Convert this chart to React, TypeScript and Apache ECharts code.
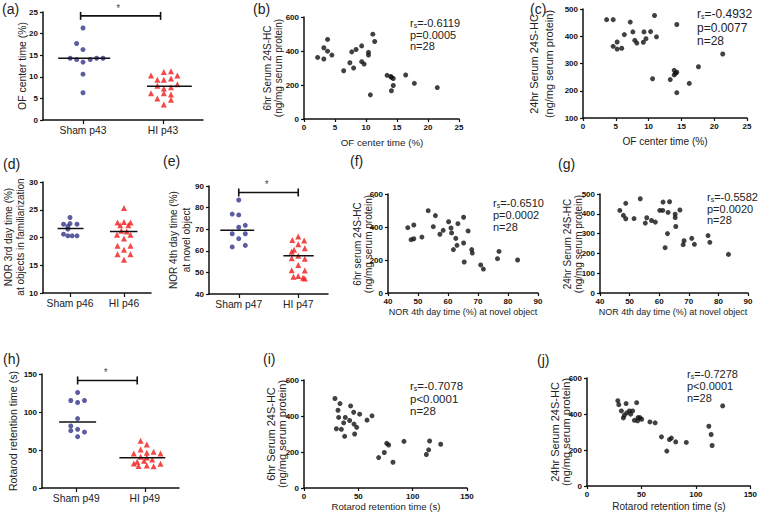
import React, { useEffect, useRef } from "react";
import * as echarts from "echarts";

const FONT = "'Liberation Sans', Arial, Helvetica, sans-serif";
const INK = "#111111";
const TXT = "#222222";
const SHAM = "#33338a";
const HI = "#f01a1a";

// ---------- (a) OF center time ----------
const aCats = ["Sham p43", "HI p43"];
const aShamY = [21.3, 17.7, 16.3, 14.3, 14.0, 13.4, 14.0, 14.3, 14.3, 10.6, 6.3];
const aShamJit = [0, -0.08, 0, -0.16, -0.08, 0, 0.09, 0.17, 0.25, 0, 0];
const aHiY = [11.1, 11.3, 10.3, 10.3, 9.3, 9.3, 9.6, 7.9, 8.3, 7.3, 7.6, 6.2, 6.2, 5.9, 5.0, 4.7, 3.6];
const aHiJit = [0.01, 0.1, 0.18, -0.15, -0.07, 0.01, 0.1, -0.07, 0.18, 0.01, 0.1, -0.15, 0.01, 0.1, -0.07, 0.1, 0.01];
const aMedian = [14.3, 7.8];
const aMedSpan = [[-0.31, 0.34], [-0.2, 0.36]];
const aSig = { from: -0.03, to: 0.97, y: 24.1, star: 0.44 };

// ---------- (d) NOR 3rd day ----------
const dCats = ["Sham p46", "HI p46"];
const dShamY = [23.6, 22.4, 22.5, 22.4, 22.0, 21.5, 20.6, 20.3, 20.3, 20.3];
const dShamJit = [0, -0.12, 0.0, 0.13, -0.04, -0.04, -0.12, -0.04, 0.04, 0.13];
const dHiY = [25.3, 22.7, 22.8, 22.7, 22.2, 22.2, 21.2, 21.1, 20.5, 20.5, 19.8, 18.5, 18.5, 17.8, 17.0, 17.0, 16.0];
const dHiJit = [0, -0.12, 0, 0.12, -0.07, 0.08, -0.05, 0.05, -0.13, 0.12, 0, -0.12, 0.12, 0, -0.12, 0.12, 0];
const dMedian = [21.6, 21.1];
const dMedSpan = [[-0.23, 0.25], [-0.26, 0.25]];

// ---------- (e) NOR 4th day ----------
const eCats = ["Sham p47", "HI p47"];
const eShamY = [83.5, 77.0, 76.6, 70.9, 71.8, 67.9, 67.9, 65.6, 61.8, 62.5];
const eShamJit = [0, -0.11, 0, 0, 0.11, -0.11, 0.11, 0, -0.11, 0.11];
const eHiY = [66.6, 65.0, 64.8, 63.0, 61.2, 60.5, 59.6, 57.7, 56.5, 56.3, 53.4, 51.0, 50.9, 48.3, 48.0, 47.5, 47.2];
const eHiJit = [0, -0.1, 0.1, 0, 0.11, -0.07, -0.11, 0, -0.11, 0.11, 0, -0.11, 0.11, 0, -0.08, 0.08, 0.11];
const eMedian = [69.5, 57.7];
const eMedSpan = [[-0.31, 0.26], [-0.25, 0.26]];
const eSig = { from: 0, to: 1, y: 87.0, star: 0.47 };

// ---------- (h) Rotarod ----------
const hCats = ["Sham p49", "HI p49"];
const hShamY = [125.7, 115.1, 112.5, 115.1, 91.3, 81.6, 77.2, 75.4, 73.6, 67.5];
const hShamJit = [0.02, -0.08, 0.02, 0.12, 0.02, -0.08, 0.02, -0.08, 0.12, 0.02];
const hHiY = [62.2, 57.3, 50.7, 47.6, 46.3, 45.4, 45.4, 41.0, 40.1, 37.5, 35.7, 34.4, 32.2, 31.8, 29.5, 29.1, 28.7];
const hHiJit = [-0.06, 0.03, -0.06, 0.13, 0.03, -0.16, 0.23, -0.06, 0.03, 0.11, -0.01, -0.11, -0.16, 0.23, 0.03, -0.09, 0.13];
const hMedian = [86.9, 39.7];
const hMedSpan = [[-0.25, 0.29], [-0.37, 0.3]];
const hSig = { from: 0.02, to: 0.89, y: 141.5, star: 0.43 };

// ---------- correlation scatters ----------
const bX = [3.8, 3.2, 3.8, 4.5, 2.2, 3.2, 6.4, 7.4, 7.7, 8.4, 8.0, 9.3, 9.3, 9.7, 10.4, 10.4, 11.1, 11.4, 10.7, 13.4, 14.1, 14.4, 14.1, 14.4, 16.4, 17.8, 21.5, 14.0];
const bY = [468, 419, 399, 376, 362, 353, 284, 331, 395, 409, 300, 430, 337, 323, 392, 376, 499, 456, 142, 257, 245, 238, 166, 197, 259, 210, 185, 250];
const bStats = ["-0.6119", "p=0.0005", "n=28"];

const cX = [3.6, 4.6, 4.6, 5.2, 5.2, 5.9, 6.3, 7.2, 7.6, 7.9, 8.2, 9.3, 9.2, 9.6, 10.3, 10.9, 11.2, 10.6, 13.3, 13.9, 13.9, 14.3, 14.3, 14.3, 16.2, 17.6, 21.3, 14.1];
const cY = [461, 461, 363, 379, 353, 356, 406, 452, 416, 385, 375, 416, 378, 391, 417, 476, 398, 244, 241, 275, 258, 268, 443, 193, 227, 288, 335, 264];
const cStats = ["-0.4932", "p=0.0077", "n=28"];

const fX = [46.6, 48.6, 47.7, 48.6, 51.3, 53.4, 55.1, 55.8, 57.3, 58.4, 60.2, 61.0, 61.2, 62.6, 61.8, 63.0, 63.3, 65.2, 65.2, 65.4, 66.7, 67.9, 68.1, 70.9, 71.8, 76.5, 77.0, 83.2];
const fY = [396, 412, 323, 329, 339, 499, 402, 469, 356, 380, 432, 394, 364, 331, 263, 289, 420, 459, 303, 188, 376, 263, 242, 170, 145, 208, 252, 200];
const fStats = ["-0.6510", "p=0.0002", "n=28"];

const gX = [46.7, 47.9, 48.7, 48.7, 51.5, 53.6, 55.3, 55.8, 57.4, 58.7, 60.2, 61.2, 61.3, 62.0, 62.8, 63.0, 63.5, 65.4, 65.4, 65.6, 67.0, 68.1, 68.4, 71.0, 71.9, 76.5, 77.1, 83.4];
const gY = [417, 392, 375, 453, 376, 476, 353, 380, 366, 358, 417, 417, 459, 229, 300, 407, 461, 398, 381, 336, 419, 244, 264, 276, 246, 290, 256, 195];
const gStats = ["-0.5582", "p=0.0020", "n=28"];

const iX = [28.5, 33.1, 29.8, 31.3, 31.9, 34.4, 36.5, 37.4, 38.0, 42.0, 42.9, 45.7, 46.0, 46.6, 48.5, 51.2, 58.0, 62.6, 68.7, 73.9, 76.1, 77.9, 81.9, 92.0, 112.6, 114.7, 115.6, 125.8];
const iY = [497, 469, 329, 432, 392, 326, 362, 287, 392, 375, 456, 421, 355, 300, 337, 410, 377, 401, 169, 197, 248, 239, 143, 259, 186, 212, 261, 243];
const iStats = ["-0.7078", "p<0.0001", "n=28"];

const jX = [28.3, 29.2, 31.6, 33.4, 34.3, 35.9, 36.5, 38.9, 40.1, 41.9, 43.5, 45.6, 46.5, 46.8, 48.6, 50.2, 57.8, 62.6, 68.4, 73.3, 75.7, 77.5, 81.5, 91.2, 111.9, 114.0, 114.9, 124.6];
const jY = [474, 452, 417, 378, 393, 458, 406, 417, 399, 417, 365, 463, 362, 380, 380, 371, 356, 351, 273, 194, 258, 266, 245, 242, 332, 286, 225, 445];
const jStats = ["-0.7278", "p<0.0001", "n=28"];

type Rect = { left: number; top: number; width: number; height: number };

function buildOption() {
  const grid: any[] = [];
  const xAxis: any[] = [];
  const yAxis: any[] = [];
  const series: any[] = [];
  const graphic: any[] = [];

  const axisLine = { show: true, onZero: false, lineStyle: { color: INK, width: 1.5 } };
  const axisTick = { show: true, length: 3, lineStyle: { color: INK, width: 1.2 } };
  const numLabel = (margin: number) => ({ fontSize: 8, fontWeight: "bold", color: INK, fontFamily: FONT, margin });
  const valAxis = (gi: number, min: number, max: number, interval: number, margin: number) => ({
    type: "value", gridIndex: gi, min, max, interval, axisLine, axisTick,
    axisLabel: numLabel(margin), splitLine: { show: false },
  });

  const catPanel = (
    r: Rect, cats: string[], yr: number[],
    shamY: number[], shamJit: number[], hiY: number[], hiJit: number[],
    med: number[], span: number[][], sig?: { from: number; to: number; y: number; star: number }
  ) => {
    const gi = grid.length;
    grid.push({ ...r });
    xAxis.push({
      type: "category", gridIndex: gi, data: cats, boundaryGap: true, axisLine,
      axisTick: { show: true, alignWithLabel: true, length: 4, lineStyle: { color: INK, width: 1.2 } },
      axisLabel: { interval: 0, fontSize: 10.3, color: TXT, fontFamily: FONT, margin: 5 },
    });
    xAxis.push({ type: "value", gridIndex: gi, min: -0.5, max: 1.5, show: false });
    const hx = xAxis.length - 1;
    yAxis.push(valAxis(gi, yr[0], yr[1], yr[2], 5));
    const yi = yAxis.length - 1;
    series.push({
      type: "scatter", xAxisIndex: hx, yAxisIndex: yi, symbol: "circle", symbolSize: 5,
      itemStyle: { color: SHAM }, data: shamY.map((v, k) => [shamJit[k], v]), z: 3,
    });
    series.push({
      type: "scatter", xAxisIndex: hx, yAxisIndex: yi, symbol: "triangle", symbolSize: 6,
      itemStyle: { color: HI }, data: hiY.map((v, k) => [1 + hiJit[k], v]), z: 3,
    });
    med.forEach((m, k) => {
      series.push({
        type: "line", xAxisIndex: hx, yAxisIndex: yi, symbol: "none",
        lineStyle: { color: INK, width: 1.5 }, z: 4,
        data: [[k + span[k][0], m], [k + span[k][1], m]],
      });
    });
    if (sig) {
      series.push({
        type: "line", xAxisIndex: hx, yAxisIndex: yi, symbol: "rect", symbolSize: [1.6, 8],
        showSymbol: true, itemStyle: { color: INK, borderWidth: 0 }, lineStyle: { color: INK, width: 1.6 }, z: 4,
        data: [[sig.from, sig.y], [sig.to, sig.y]],
      });
      series.push({
        type: "scatter", xAxisIndex: hx, yAxisIndex: yi, symbol: "circle", symbolSize: 1,
        itemStyle: { color: "rgba(0,0,0,0)" },
        label: { show: true, formatter: "*", position: "top", distance: 2, fontSize: 10, color: INK, fontFamily: FONT },
        data: [[sig.star, sig.y]],
      });
    }
  };

  const scatPanel = (r: Rect, xr: number[], yr: number[], xs: number[], ys: number[]) => {
    const gi = grid.length;
    grid.push({ ...r });
    xAxis.push(valAxis(gi, xr[0], xr[1], xr[2], 4));
    yAxis.push(valAxis(gi, yr[0], yr[1], yr[2], 5));
    series.push({
      type: "scatter", xAxisIndex: xAxis.length - 1, yAxisIndex: yAxis.length - 1,
      symbol: "circle", symbolSize: 5, itemStyle: { color: INK },
      data: xs.map((v, k) => [v, ys[k]]),
    });
  };

  const letter = (x: number, y: number, t: string) =>
    graphic.push({ type: "text", x, y, style: { text: t, fontSize: 14, fontFamily: FONT, fill: TXT, align: "left", verticalAlign: "middle" } });
  const ytitle = (x: number, y: number, t: string, size = 10, lh = 10) =>
    graphic.push({ type: "text", x, y, rotation: Math.PI / 2, style: { text: t, fontSize: size, lineHeight: lh, fontFamily: FONT, fill: TXT, align: "center", verticalAlign: "middle" } });
  const xtitle = (x: number, y: number, t: string, size = 10) =>
    graphic.push({ type: "text", x, y, style: { text: t, fontSize: size, fontFamily: FONT, fill: TXT, align: "center", verticalAlign: "middle" } });
  const stats = (x: number, y: number, gap: number, size: number, s: string[]) => {
    graphic.push({
      type: "text", x, y,
      style: {
        text: `{a|r}{b|s}{a|=${s[0]}}`, align: "left", verticalAlign: "middle",
        rich: {
          a: { fontSize: size, fontFamily: FONT, fill: TXT, lineHeight: size },
          b: { fontSize: Math.round(size * 0.62), fontFamily: FONT, fill: TXT, verticalAlign: "bottom", lineHeight: size },
        },
      },
    });
    graphic.push({ type: "text", x, y: y + gap, style: { text: s[1], fontSize: size, fontFamily: FONT, fill: TXT, align: "left", verticalAlign: "middle" } });
    graphic.push({ type: "text", x, y: y + 2 * gap, style: { text: s[2], fontSize: size, fontFamily: FONT, fill: TXT, align: "left", verticalAlign: "middle" } });
  };

  // Row 1
  catPanel({ left: 43, top: 12, width: 160, height: 108 }, aCats, [0, 25, 5], aShamY, aShamJit, aHiY, aHiJit, aMedian, aMedSpan, aSig);
  scatPanel({ left: 304, top: 17, width: 155, height: 102 }, [0, 25, 5], [0, 600, 200], bX, bY);
  scatPanel({ left: 583, top: 9, width: 164, height: 109 }, [0, 25, 5], [100, 500, 100], cX, cY);
  // Row 2
  catPanel({ left: 43, top: 182, width: 108, height: 111 }, dCats, [10, 30, 5], dShamY, dShamJit, dHiY, dHiJit, dMedian, dMedSpan);
  catPanel({ left: 209, top: 186, width: 119, height: 108 }, eCats, [40, 90, 10], eShamY, eShamJit, eHiY, eHiJit, eMedian, eMedSpan, eSig);
  scatPanel({ left: 388, top: 194, width: 150, height: 99 }, [40, 90, 10], [0, 600, 200], fX, fY);
  scatPanel({ left: 600, top: 194, width: 148, height: 99 }, [40, 90, 10], [0, 500, 100], gX, gY);
  // Row 3
  catPanel({ left: 42, top: 374, width: 137, height: 114 }, hCats, [0, 150, 50], hShamY, hShamJit, hHiY, hHiJit, hMedian, hMedSpan, hSig);
  scatPanel({ left: 304, top: 380, width: 163, height: 108 }, [0, 150, 50], [0, 600, 200], iX, iY);
  scatPanel({ left: 587, top: 378, width: 165, height: 108 }, [0, 150, 50], [0, 600, 200], jX, jY);

  // panel letters
  letter(2, 9, "(a)"); letter(253, 9, "(b)"); letter(530, 9, "(c)");
  letter(3, 164, "(d)"); letter(163, 161, "(e)"); letter(350, 161, "(f)"); letter(558, 164, "(g)");
  letter(3, 359, "(h)"); letter(263, 359, "(i)"); letter(537, 360, "(j)");

  // y titles
  ytitle(22, 66, "OF center time (%)", 10.4);
  ytitle(273, 68, "6hr Serum 24S-HC\n(ng/mg serum protein)", 10, 10.5);
  ytitle(541, 64, "24hr Serum 24S-HC\n(ng/mg serum protein)", 11, 15);
  ytitle(14, 237, "NOR 3rd day time (%)\nat objects in familiarization", 10, 12);
  ytitle(180, 240, "NOR 4th day time (%)\nat novel object", 10, 13);
  ytitle(363, 244, "6hr serum 24S-HC\n(ng/mg serum protein)", 10, 10.5);
  ytitle(573, 244, "24hr Serum 24S-HC\n(ng/mg serum protein)", 10, 11);
  ytitle(13, 431, "Rotarod retention time (s)", 10.6);
  ytitle(276, 434, "6hr Serum 24S-HC\n(ng/mg serum protein)", 11, 11);
  ytitle(560, 432, "24hr Serum 24S-HC\n(ng/mg serum protein)", 11, 11);

  // x titles
  xtitle(382, 142, "OF center time (%)", 9.8);
  xtitle(665, 141, "OF center time (%)", 10.1);
  xtitle(463, 312, "NOR 4th day time (%) at novel object", 9);
  xtitle(673, 312, "NOR 4th day time (%) at novel object", 9);
  xtitle(386, 506, "Rotarod retention time (s)", 9.6);
  xtitle(669, 506, "Rotarod retention time (s)", 10);

  // statistics
  stats(410, 23, 11.5, 11, bStats);
  stats(697, 14, 13.5, 12, cStats);
  stats(493, 203, 12, 11, fStats);
  stats(707, 197, 11.7, 11, gStats);
  stats(410, 386, 12.5, 11.5, iStats);
  stats(687, 374, 12.2, 11, jStats);

  return {
    animation: false,
    backgroundColor: "#ffffff",
    textStyle: { fontFamily: FONT },
    grid, xAxis, yAxis, series, graphic,
  };
}

export default function App() {
  const ref = useRef<HTMLDivElement>(null);
  useEffect(() => {
    if (!ref.current) return;
    const chart = echarts.init(ref.current, undefined, { renderer: "svg" });
    chart.setOption(buildOption() as any);
    return () => chart.dispose();
  }, []);
  return (
    <div
      ref={ref}
      style={{ position: "fixed", left: 0, top: 0, width: 760, height: 519, background: "#fff" }}
    />
  );
}
